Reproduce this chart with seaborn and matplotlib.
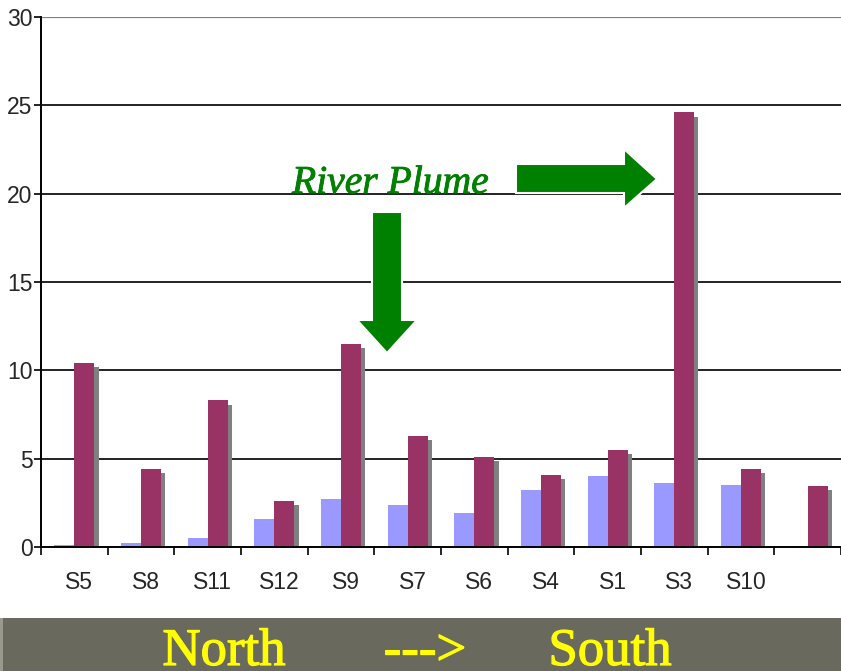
import matplotlib
matplotlib.use("Agg")
import matplotlib.pyplot as plt
import matplotlib.patheffects as pe
import matplotlib.transforms as mtransforms
from matplotlib.patches import Polygon, Rectangle
from matplotlib.ticker import MultipleLocator, FixedLocator
import numpy as np
import pandas as pd
import seaborn as sns

# Stations ordered from north to south (last station is unlabeled)
stations = ["S5", "S8", "S11", "S12", "S9", "S7", "S6", "S4", "S1", "S3", "S10", ""]
series_a = [0.1, 0.2, 0.5, 1.6, 2.7, 2.4, 1.9, 3.2, 4.0, 3.6, 3.5, 0.0]
series_b = [10.4, 4.4, 8.3, 2.6, 11.5, 6.3, 5.1, 4.1, 5.5, 24.6, 4.4, 3.45]
series_names = ["A", "B"]
colors = ["#9999FF", "#993366"]

df = pd.DataFrame({
    "station": stations * 2,
    "value": series_a + series_b,
    "series": [series_names[0]] * len(stations) + [series_names[1]] * len(stations),
})

W, H = 841, 671
fig = plt.figure(figsize=(W / 100, H / 100), dpi=100)
sns.set_style("white")
plt.rcParams["font.family"] = ["Liberation Sans", "DejaVu Sans"]

ax = fig.add_axes([41 / W, 1 - 547 / H, (W - 41) / W, (547 - 17) / H])
sns.barplot(data=df, x="station", y="value", hue="series", palette=colors,
            width=0.6, saturation=1, dodge=True, legend=False, ax=ax,
            order=stations, hue_order=series_names, zorder=3)

# grey drop shadow behind the second series
n = len(stations)
for patch in ax.patches[n:2 * n]:
    patch.set_path_effects([
        pe.SimplePatchShadow(offset=(3, -3), shadow_rgbFace=(0.5, 0.5, 0.5), alpha=1.0),
        pe.Normal(),
    ])
for patch in ax.patches:
    patch.set_linewidth(0)

ax.set_xlim(-0.5, n - 0.5)
ax.set_ylim(0, 30)
ax.yaxis.set_major_locator(MultipleLocator(5))
ax.grid(False)
for yv in range(5, 30, 5):
    ax.axhline(yv, color="#222222", lw=1.4, zorder=1)
ax.axhline(30, color="#808080", lw=1.6, zorder=1)

for side in ["top", "right"]:
    ax.spines[side].set_visible(False)
for side in ["left", "bottom"]:
    ax.spines[side].set_color("black")
    ax.spines[side].set_linewidth(1.4)
ax.spines["bottom"].set_zorder(4)

ax.set_xlabel("")
ax.set_ylabel("")
ax.tick_params(axis="y", direction="out", length=5, width=1.2, color="black",
               labelsize=16.5, pad=1, left=True)
ax.tick_params(axis="x", which="major", length=0, labelsize=16.5, pad=17)
ax.xaxis.set_minor_locator(FixedLocator(np.arange(-0.5, n, 1.0)))
ax.tick_params(axis="x", which="minor", direction="out", length=6, width=1.2,
               color="black", bottom=True)
shift = mtransforms.ScaledTranslation(5 / 100, 0, fig.dpi_scale_trans)
for lbl in ax.get_xticklabels():
    lbl.set_transform(lbl.get_transform() + shift)


def px(x, y):
    return (x / W, 1 - y / H)


green = "#008000"
# annotation arrows
right_arrow = [px(516, 164), px(624, 164), px(624, 149), px(657, 179),
               px(624, 208), px(624, 193), px(516, 193)]
down_arrow = [px(372, 212), px(402, 212), px(402, 320), px(417, 320),
              px(387, 353), px(357, 320), px(372, 320)]
for pts in (right_arrow, down_arrow):
    fig.patches.append(Polygon(pts, closed=True, transform=fig.transFigure,
                               facecolor=green, edgecolor="white", lw=1.5, zorder=10))

fig.text(292 / W, 1 - 193 / H, "River Plume", color=green, fontsize=28.5,
         style="italic", family=["Liberation Serif", "DejaVu Serif"],
         ha="left", va="baseline", zorder=11,
         path_effects=[pe.withStroke(linewidth=0.6, foreground=green)])

# bottom banner
fig.patches.append(Rectangle(px(0, 671), 1, (671 - 618) / H, transform=fig.transFigure,
                             facecolor="#696A5D", edgecolor="none", zorder=0))
fig.patches.append(Rectangle(px(0, 671), 3 / W, (671 - 618) / H, transform=fig.transFigure,
                             facecolor="#9A9A8C", edgecolor="none", zorder=0))
serif = ["Liberation Serif", "DejaVu Serif"]
for xc, txt in [(224, "North"), (425, "--->"), (610, "South")]:
    fig.text(xc / W, 1 - 665 / H, txt, color="#FFFF00", fontsize=38,
             family=serif, ha="center", va="baseline", zorder=2,
             path_effects=[pe.withStroke(linewidth=0.9, foreground="#FFFF00")])

fig.savefig("out.png", dpi=100)
